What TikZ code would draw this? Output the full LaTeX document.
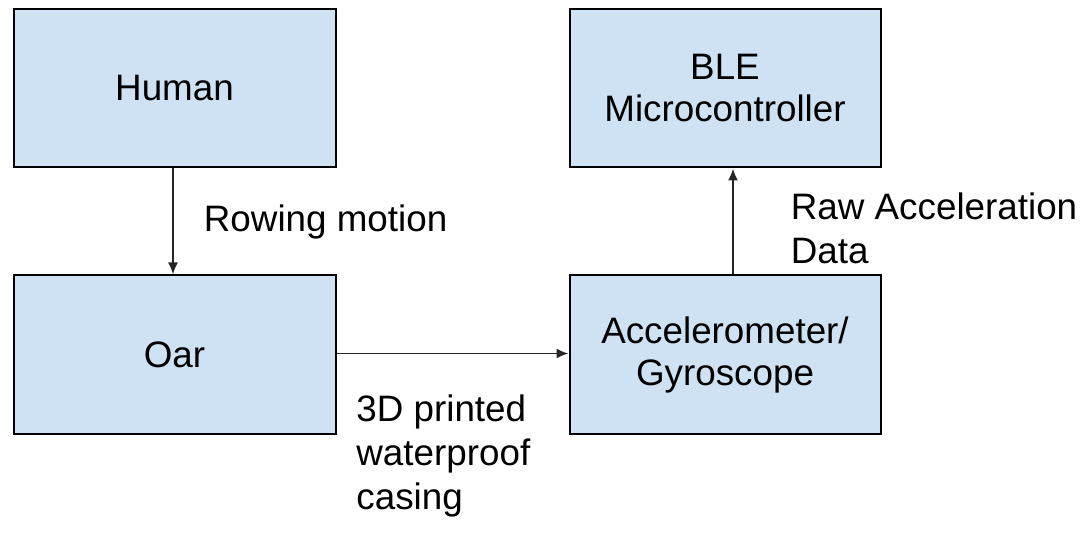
\documentclass[tikz,border=0pt]{standalone}
\usepackage{fontspec}
\setmainfont{Liberation Sans}
\usetikzlibrary{positioning,arrows.meta}

\definecolor{boxblue}{HTML}{CFE2F3}

\begin{document}
\begin{tikzpicture}[x=1pt, y=1pt,
		block/.style={rectangle, draw=black, line width=2pt, fill=boxblue,
			minimum height=158pt, align=center,
			font=\fontsize{36.8}{42}\selectfont},
		lbl/.style={align=left, inner sep=0pt,
			font=\fontsize{36.8}{44}\selectfont},
		flow/.style={-{Latex[length=12pt, width=10pt]}, line width=1.8pt, draw=black!85}]
		\useasboundingbox (0,0) rectangle (1084,-534);

		\node [block, minimum width=322pt] (human) at (174.5,-88.5) {Human};
		\node [block, minimum width=322pt, below=106pt of human] (oar) {Oar};
		\node [block, minimum width=311pt, right=232pt of oar] (imu) {Accelerometer/\\Gyroscope};
		\node [block, minimum width=311pt, above=106pt of imu] (ble) {BLE\\Microcontroller};

		% links between the blocks
		\path ([xshift=-1.5pt]human.south) edge [flow]
			node [lbl, anchor=west, xshift=30pt] {Rowing motion} ([xshift=-1.5pt]oar.north);
		\path ([yshift=1pt]oar.east) edge [flow]
			node [lbl, anchor=north west, xshift=-97pt, yshift=-40pt] {3D printed\\waterproof\\casing} ([yshift=1pt]imu.west);
		\path ([xshift=8pt]imu.north) edge [flow]
			node [lbl, anchor=west, xshift=57pt, yshift=-7pt] {Raw Acceleration\\Data} ([xshift=8pt]ble.south);
	\end{tikzpicture}
\end{document}
